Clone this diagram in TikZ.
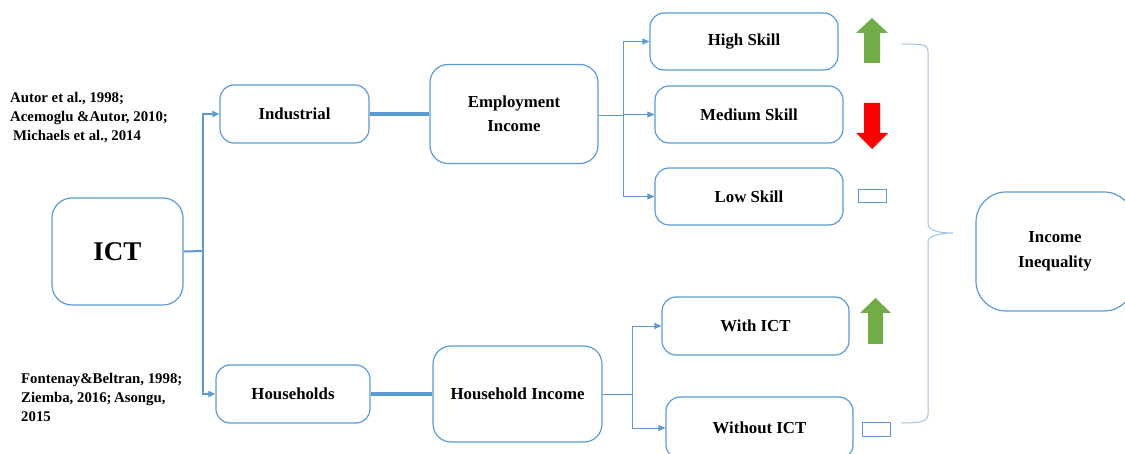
\documentclass[tikz,border=0pt]{standalone}
\usepackage{fontspec}
\setmainfont{Liberation Serif}
\usepackage{tikz}
\usetikzlibrary{arrows.meta}
\usetikzlibrary{positioning}
\definecolor{boxblue}{HTML}{5B9BD5}
\definecolor{braceblue}{HTML}{9DC3E6}
\definecolor{upgreen}{HTML}{70AD47}
\definecolor{downred}{HTML}{FF0000}
\tikzset{
  box/.style={draw=boxblue, line width=1.2pt, rounded corners=14pt, fill=white,
    align=center, inner sep=0pt, font=\fontsize{16.8}{24}\selectfont\bfseries},
  cite/.style={anchor=north west, align=left, inner sep=0pt,
    font=\fontsize{14.8}{19}\selectfont\bfseries},
  link/.style={draw=boxblue, line width=0.8pt, -{Triangle[length=7pt,width=6pt]}},
  trunk/.style={draw=boxblue, line width=2pt},
  thick link/.style={draw=boxblue, line width=3.5pt},
  mark box/.style={draw=boxblue, line width=1pt}
}
\begin{document}
\begin{tikzpicture}[x=1pt,y=-1pt]
	\useasboundingbox (0,0) rectangle (1125,454);
	% boxes
	\node[box, minimum width=131pt, minimum height=107pt, rounded corners=20pt,
	      font=\fontsize{27}{30}\selectfont\bfseries] (ict) at (117.5,251.5) {ICT};
	\node[box, minimum width=149pt, minimum height=58pt] (ind) at (294.5,114) {Industrial};
	\node[box, minimum width=154pt, minimum height=58pt] (hh) at (293,394) {Households};
	\node[box, minimum width=168pt, minimum height=99pt, rounded corners=18pt] (emp) at (514,114) {Employment\\Income};
	\node[box, minimum width=169pt, minimum height=96pt, rounded corners=18pt] (hinc) at (517.5,394) {Household Income};
	\node[box, minimum width=188pt, minimum height=57pt] (high) at (744,41.5) {High Skill};
	\node[box, minimum width=188pt, minimum height=57pt] (med) at (749,114.5) {Medium Skill};
	\node[box, minimum width=188pt, minimum height=57pt] (low) at (749,196.5) {Low Skill};
	\node[box, minimum width=187pt, minimum height=58pt] (with) at (755.5,326) {With ICT};
	\node[box, minimum width=187pt, minimum height=62pt] (without) at (759.5,428) {Without ICT};
	\node[box, minimum width=158pt, minimum height=119pt, rounded corners=30pt,
	      font=\fontsize{16.8}{25}\selectfont\bfseries] (ineq) at (1055,251.5) {Income\\Inequality};
	% references
	\node[cite] (refind) at (10,92) {Autor et al., 1998;\\Acemoglu \&Autor, 2010;\\\hspace*{3pt}Michaels et al., 2014};
	\node[cite] (refhh) at (21,373) {Fontenay\&Beltran, 1998;\\Ziemba,\ 2016;\,Asongu,\\2015};
	% split points
	\coordinate (s1) at (203,251);
	\coordinate (s2) at (623,115);
	\coordinate (s3) at (632,394);
	\path[trunk] (ict.east) -- (s1);
	\path[link, line width=2pt] (s1) |- (ind.west);
	\path[link, line width=2pt] (s1) |- (hh.west);
	\path[thick link] (ind.east) -- (ind.east -| emp.west);
	\path[thick link] (hh.east) -- (hh.east -| hinc.west);
	\path[draw=boxblue, line width=0.8pt] (emp.east |- s2) -- (s2);
	\path[link] (s2) |- (high.west);
	\path[link] (s2) |- (med.west);
	\path[link] (s2) |- (low.west);
	\path[draw=boxblue, line width=0.8pt] (hinc.east) -- (s3);
	\path[link] (s3) |- (with.west);
	\path[link] (s3) |- (without.west);
	% trend marks
	\fill[upgreen] (864,63) -- (864,33) -- (856,33) -- (872,18) -- (888,33) -- (880,33) -- (880,63) -- cycle;
	\fill[downred] (864,103) -- (864,133) -- (856,133) -- (872,149) -- (888,133) -- (880,133) -- (880,103) -- cycle;
	\draw[mark box] (858,190) rectangle (886,203);
	\fill[upgreen] (868,344) -- (868,313) -- (860,313) -- (875.5,298) -- (891,313) -- (883,313) -- (883,344) -- cycle;
	\draw[mark box] (862,422) rectangle (890,436);
	% brace
	\draw[braceblue, line width=1pt] (901,44) .. controls (922,44) and (928,44) .. (928,52) -- (928,224)
	  .. controls (928,231) and (940,233) .. (953,233) .. controls (940,233) and (928,236) .. (928,242)
	  -- (928,414) .. controls (928,422) and (920,423) .. (901,423);
\end{tikzpicture}
\end{document}
